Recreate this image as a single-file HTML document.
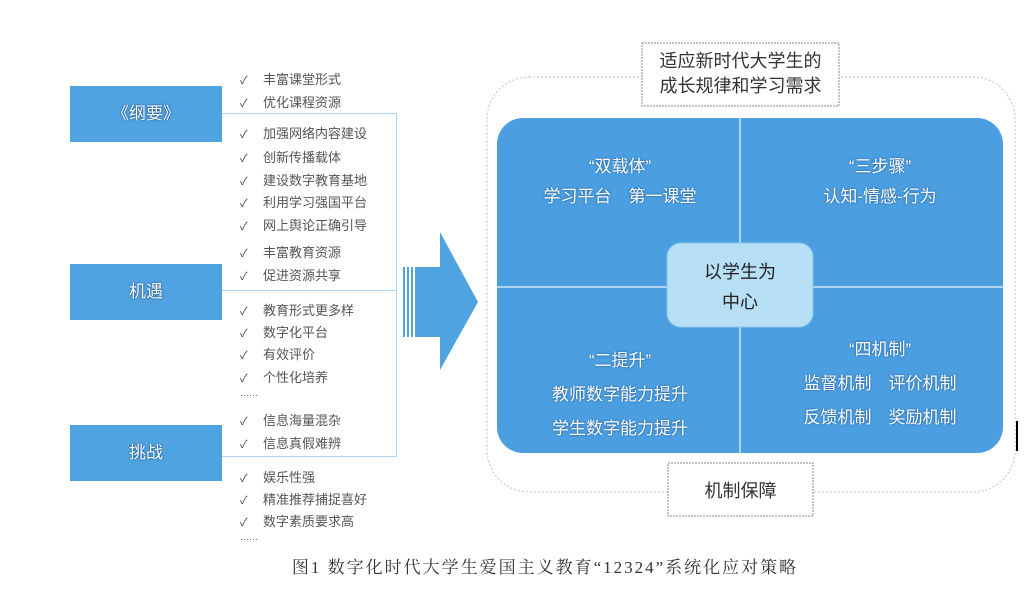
<!DOCTYPE html>
<html><head><meta charset="utf-8"><style>
body{margin:0;width:1034px;height:602px;background:#fff;position:relative;overflow:hidden;font-family:"Liberation Sans","Noto Sans CJK SC",sans-serif}
.a{position:absolute}
.lb{position:absolute;left:70px;width:152px;height:56px;background:#4fa3e0;color:#fff;font-size:17px;line-height:56px;text-align:center;text-shadow:0 0 2px #1d4f8f,0 0 1px #1d4f8f}
.it{position:absolute;left:240px;font-size:13px;color:#555;white-space:nowrap}
.it span{display:inline-block;width:23px;color:#444;font-size:11px}
.q{position:absolute;color:#fff;font-size:17px;text-align:center;text-shadow:0 0 2px #1d4f8f}
</style></head><body>
<div class="lb" style="top:86px">《纲要》</div>
<div class="lb" style="top:264px">机遇</div>
<div class="lb" style="top:425px">挑战</div>
<div class="a" style="left:222px;top:113px;width:174px;height:342px;border:1px solid #a9d3f2;border-left:none"></div>
<div class="a" style="left:222px;top:290px;width:175px;height:1px;background:#a9d3f2"></div>
<div class="it" style="top:69px"><span>✓</span>丰富课堂形式</div>
<div class="it" style="top:92px"><span>✓</span>优化课程资源</div>
<div class="it" style="top:123px"><span>✓</span>加强网络内容建设</div>
<div class="it" style="top:147px"><span>✓</span>创新传播载体</div>
<div class="it" style="top:170px"><span>✓</span>建设数字教育基地</div>
<div class="it" style="top:192px"><span>✓</span>利用学习强国平台</div>
<div class="it" style="top:215px"><span>✓</span>网上舆论正确引导</div>
<div class="it" style="top:242px"><span>✓</span>丰富教育资源</div>
<div class="it" style="top:265px"><span>✓</span>促进资源共享</div>
<div class="it" style="top:300px"><span>✓</span>教育形式更多样</div>
<div class="it" style="top:322px"><span>✓</span>数字化平台</div>
<div class="it" style="top:344px"><span>✓</span>有效评价</div>
<div class="it" style="top:367px"><span>✓</span>个性化培养</div>
<div class="it" style="top:388px;font-size:9px">……</div>
<div class="it" style="top:410px"><span>✓</span>信息海量混杂</div>
<div class="it" style="top:433px"><span>✓</span>信息真假难辨</div>
<div class="it" style="top:467px"><span>✓</span>娱乐性强</div>
<div class="it" style="top:489px"><span>✓</span>精准推荐捕捉喜好</div>
<div class="it" style="top:511px"><span>✓</span>数字素质要求高</div>
<div class="it" style="top:532px;font-size:9px">……</div>
<svg class="a" style="left:0;top:0" width="1034" height="602">
<rect x="403" y="267" width="2" height="70" fill="#4fa3e0"/>
<rect x="407" y="267" width="2" height="70" fill="#4fa3e0"/>
<rect x="411" y="267" width="2" height="70" fill="#4fa3e0"/>
<polygon points="415,267 440,267 440,232 478,302 440,370 440,337 415,337" fill="#4fa3e0"/>
<rect x="487" y="77" width="528" height="415" rx="42" fill="none" stroke="#a9c4e6" stroke-dasharray="2,2"/>
<rect x="497" y="118" width="506" height="335" rx="26" fill="#4b9fe0"/>
<line x1="740" y1="118" x2="740" y2="453" stroke="#cfe6f8" stroke-width="1.5"/>
<line x1="497" y1="287" x2="1003" y2="287" stroke="#cfe6f8" stroke-width="1.5"/>
<rect x="667" y="243" width="146" height="84" rx="14" fill="#b7e0f6" stroke="#8cc7ec"/>
<rect x="642" y="43" width="197" height="63" fill="#fff" stroke="#888" stroke-dasharray="2,1"/>
<rect x="668" y="463" width="145" height="53" fill="#fff" stroke="#888" stroke-dasharray="2,1"/>
</svg>
<div class="a" style="left:642px;top:49px;width:197px;text-align:center;font-size:18px;line-height:25px;color:#333">适应新时代大学生的<br>成长规律和学习需求</div>
<div class="a" style="left:668px;top:477px;width:145px;text-align:center;font-size:18px;color:#333">机制保障</div>
<div class="a" style="left:667px;top:257px;width:146px;text-align:center;font-size:18px;line-height:30px;color:#222">以学生为<br>中心</div>
<div class="q" style="left:500px;top:152px;width:240px;line-height:30px">“双载体”<br>学习平台　第一课堂</div>
<div class="q" style="left:760px;top:152px;width:240px;line-height:30px">“三步骤”<br>认知-情感-行为</div>
<div class="q" style="left:500px;top:344px;width:240px;line-height:34px">“二提升”<br>教师数字能力提升<br>学生数字能力提升</div>
<div class="q" style="left:760px;top:333px;width:240px;line-height:34px">“四机制”<br>监督机制　评价机制<br>反馈机制　奖励机制</div>
<div class="a" style="left:1016px;top:421px;width:2px;height:30px;background:#000"></div>
<div class="a" style="left:0;top:553px;width:1090px;text-align:center;font-family:'Liberation Serif','Noto Serif CJK SC',serif;font-size:17px;letter-spacing:2px;color:#333">图1 数字化时代大学生爱国主义教育“12324”系统化应对策略</div>
</body></html>
